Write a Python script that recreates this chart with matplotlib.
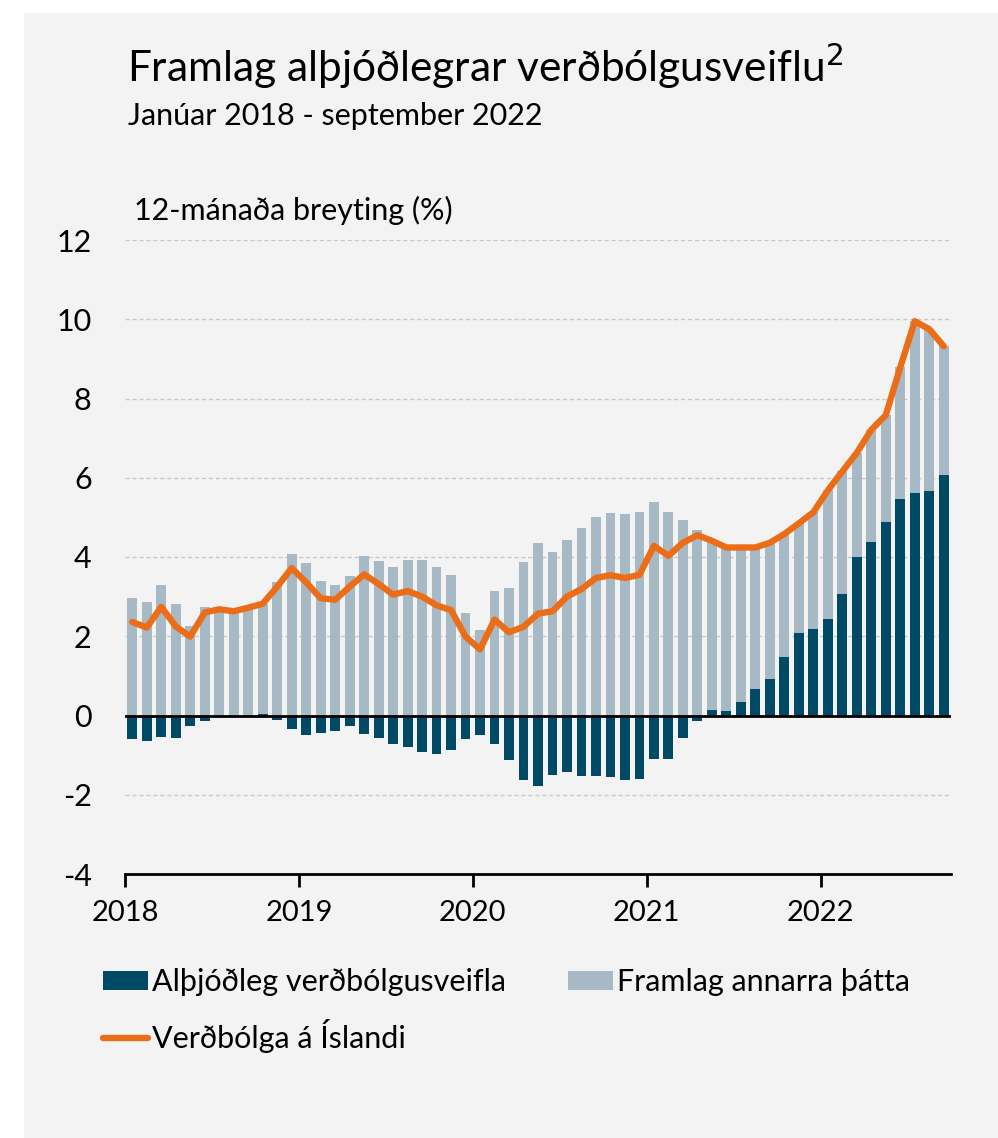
import numpy as np
import matplotlib
matplotlib.use("Agg")
import matplotlib.pyplot as plt
from matplotlib.patches import Rectangle, Patch
from matplotlib.lines import Line2D

plt.rcParams['font.family'] = ['Lato', 'DejaVu Sans']

# Monthly data, Jan 2018 - Sep 2022 (12-month change, %)
global_contrib = [
    -0.60, -0.64, -0.55, -0.57, -0.27, -0.14, 0.00, 0.00, -0.05, 0.05, -0.11, -0.35,
    -0.49, -0.44, -0.38, -0.27, -0.47, -0.58, -0.71, -0.79, -0.93, -0.96, -0.88, -0.60,
    -0.49, -0.71, -1.13, -1.64, -1.79, -1.50, -1.42, -1.53, -1.53, -1.56, -1.62, -1.59,
    -1.10, -1.10, -0.57, -0.14, 0.15, 0.11, 0.33, 0.66, 0.91, 1.48, 2.08, 2.19,
    2.44, 3.07, 3.99, 4.38, 4.88, 5.47, 5.61, 5.67, 6.06,
]
inflation = [
    2.36, 2.22, 2.74, 2.25, 1.99, 2.60, 2.68, 2.63, 2.72, 2.82, 3.25, 3.72,
    3.36, 2.96, 2.92, 3.25, 3.56, 3.32, 3.05, 3.14, 3.00, 2.78, 2.66, 1.99,
    1.67, 2.42, 2.10, 2.24, 2.57, 2.63, 3.00, 3.19, 3.47, 3.54, 3.47, 3.55,
    4.28, 4.03, 4.36, 4.55, 4.41, 4.24, 4.24, 4.24, 4.36, 4.58, 4.85, 5.13,
    5.68, 6.16, 6.63, 7.21, 7.58, 8.79, 9.95, 9.75, 9.32,
]
year_labels = ['2018', '2019', '2020', '2021', '2022']
y_ticks = [-4, -2, 0, 2, 4, 6, 8, 10, 12]

dark = '#004a66'
light = '#a7b9c4'
orange = '#ec6d17'
bg = '#f3f3f3'
fs = 22

W, H = 998, 1138
fig = plt.figure(figsize=(W / 100, H / 100), dpi=100)
fig.patch.set_facecolor('white')

def fx(x):
    return x / W

def fy(y):
    return 1 - y / H

# grey panel
fig.patches.append(Rectangle((fx(24), 0), 1 - fx(24), fy(13), transform=fig.transFigure,
                             facecolor=bg, edgecolor='none', zorder=-10))

ax = fig.add_axes([fx(125), fy(874), fx(951) - fx(125), fy(240) - fy(874)])
ax.set_facecolor('none')

g = np.array(global_contrib)
inf = np.array(inflation)
other = inf - g
x = np.arange(len(g)) + 0.5
other_bottom = np.maximum(g, 0)

ax.bar(x, g, width=0.68, color=dark, zorder=3)
ax.bar(x, other, bottom=other_bottom, width=0.68, color=light, zorder=3)
ax.plot(x, inf, color=orange, lw=4.6, solid_joinstyle='round', solid_capstyle='round', zorder=5)
ax.axhline(0, color='black', lw=2, zorder=4)

ax.set_xlim(0, len(g))
ax.set_ylim(-4, 12)
ax.set_yticks(y_ticks)
ax.set_yticklabels([str(t) for t in y_ticks])
ax.yaxis.grid(True, color='#c9c9c9', ls=(0, (3, 2)), lw=1)
ax.set_axisbelow(True)
ax.tick_params(axis='y', length=0, pad=24, labelsize=fs)

ax.set_xticks([0, 12, 24, 36, 48])
ax.set_xticklabels(year_labels)
ax.tick_params(axis='x', length=9, width=2, direction='out', pad=10, labelsize=21)

for s in ['top', 'right', 'left']:
    ax.spines[s].set_visible(False)
ax.spines['bottom'].set_linewidth(2)

# texts
fig.text(fx(127), fy(82), 'Framlag alþjóðlegrar verðbólgusveiflu$^{2}$', fontsize=30.5,
         va='baseline', ha='left')
fig.text(fx(128), fy(125), 'Janúar 2018 - september 2022', fontsize=fs,
         va='baseline', ha='left')
fig.text(fx(134), fy(220), '12-mánaða breyting (%)', fontsize=fs,
         va='baseline', ha='left')

handles = [
    Patch(facecolor=dark, edgecolor='none', label='Alþjóðleg verðbólgusveifla'),
    Line2D([0], [0], color=orange, lw=4.6, solid_capstyle='round', label='Verðbólga á Íslandi'),
    Patch(facecolor=light, edgecolor='none', label='Framlag annarra þátta'),
]
fig.legend(handles=handles, ncol=2, loc='upper left', bbox_to_anchor=(fx(103), fy(968)),
           frameon=False, fontsize=fs, handlelength=1.47, handleheight=0.6,
           handletextpad=0.15, columnspacing=2.0, labelspacing=0.75,
           borderpad=0, borderaxespad=0)

fig.savefig('out.png', dpi=100, facecolor=fig.get_facecolor())
